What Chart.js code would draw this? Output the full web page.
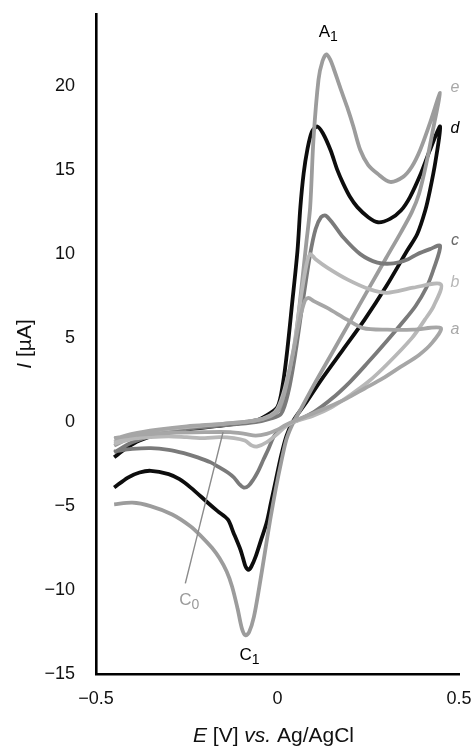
<!DOCTYPE html>
<html>
<head>
<meta charset="utf-8">
<script src="https://cdn.jsdelivr.net/npm/chart.js@4/dist/chart.umd.min.js"></script>
<style>
  html, body { margin: 0; padding: 0; background: #fff; }
  canvas { display: block; }
</style>
</head>
<body>
<canvas id="c" width="472" height="748"></canvas>
<script>
// ---- data (potential E [V], current I [µA]) ----
const xTicks = [-0.5, 0, 0.5];
const yTicks = [-15, -10, -5, 0, 5, 10, 15, 20];

const eV = [-0.45,-0.40,-0.33,-0.25,-0.15,-0.07,-0.02,0.01,0.03,0.05,0.065,0.08,0.09,0.099,0.113,0.124,0.135,0.145,0.154,0.173,0.192,0.209,0.228,0.25,0.275,0.31,0.346,0.37,0.393,0.42,0.448,
  0.43,0.41,0.39,0.37,0.34,0.30,0.25,0.20,0.15,0.10,0.065,0.044,0.025,0.01,-0.005,-0.02,-0.035,-0.05,-0.065,-0.078,-0.088,-0.098,-0.11,-0.125,-0.14,-0.16,-0.18,-0.21,-0.24,-0.29,-0.35,-0.40,-0.45];
const eI = [-1.4,-0.9,-0.55,-0.35,-0.15,0.05,0.3,0.9,2.4,5.0,7.8,10.8,12.8,16.8,20.4,21.5,21.9,21.6,21.1,19.9,18.75,17.6,16.2,15.3,14.8,14.3,14.6,15.2,16.2,17.8,19.6,
  17.6,15.4,13.6,12.5,11.3,9.8,7.9,6.0,4.1,2.2,0.8,0.0,-1.0,-2.4,-4.0,-5.8,-7.8,-9.8,-11.6,-12.5,-12.7,-12.3,-11.1,-9.8,-8.9,-8.1,-7.5,-6.8,-6.2,-5.5,-5.0,-4.8,-4.9];

const dV = [-0.45,-0.42,-0.38,-0.33,-0.25,-0.15,-0.06,-0.03,0.0,0.015,0.027,0.04,0.055,0.063,0.072,0.082,0.095,0.11,0.125,0.146,0.165,0.181,0.20,0.22,0.25,0.277,0.31,0.34,0.365,0.395,0.42,0.448,
  0.435,0.42,0.407,0.385,0.357,0.30,0.24,0.18,0.12,0.08,0.044,0.025,0.01,-0.005,-0.018,-0.03,-0.045,-0.06,-0.072,-0.08,-0.088,-0.095,-0.102,-0.121,-0.137,-0.165,-0.192,-0.239,-0.27,-0.30,-0.349,-0.38,-0.412,-0.45];
const dI = [-2.1,-1.6,-1.1,-0.75,-0.45,-0.2,0.1,0.4,0.9,2.3,4.3,7.0,10.2,12.8,14.8,16.2,17.3,17.6,17.2,16.2,15.0,14.2,13.4,12.8,12.2,11.9,12.1,12.6,13.4,14.8,16.2,17.6,
  15.5,13.8,12.6,11.2,10.2,8.1,6.1,4.3,2.5,1.2,0.1,-0.8,-2.0,-3.5,-4.8,-6.0,-7.0,-8.0,-8.6,-8.8,-8.6,-8.1,-7.6,-6.6,-5.8,-5.3,-4.8,-3.9,-3.4,-3.1,-2.9,-3.0,-3.3,-3.9];

const cV = [-0.45,-0.40,-0.33,-0.25,-0.15,-0.06,-0.02,0.01,0.03,0.05,0.07,0.09,0.105,0.12,0.132,0.15,0.181,0.228,0.275,0.319,0.36,0.385,0.42,0.448,
  0.43,0.41,0.38,0.343,0.30,0.247,0.20,0.15,0.10,0.044,0.02,0.0,-0.011,-0.025,-0.038,-0.055,-0.066,-0.08,-0.093,-0.105,-0.12,-0.137,-0.16,-0.184,-0.22,-0.258,-0.30,-0.349,-0.40,-0.45];
const cI = [-1.8,-1.2,-0.7,-0.4,-0.2,0.0,0.2,0.5,1.8,4.2,7.2,10.0,11.5,12.2,12.3,11.9,11.0,10.0,9.5,9.45,9.7,10.0,10.3,10.5,
  9.1,8.0,6.9,5.9,4.8,3.5,2.4,1.4,0.6,0.0,-0.25,-0.6,-0.9,-1.6,-2.2,-3.0,-3.4,-3.8,-3.9,-3.7,-3.3,-3.0,-2.7,-2.4,-2.1,-1.85,-1.65,-1.55,-1.6,-1.75];

const bV = [-0.45,-0.40,-0.33,-0.25,-0.15,-0.06,-0.02,0.0,0.02,0.044,0.065,0.08,0.09,0.105,0.137,0.192,0.255,0.302,0.374,0.45,
  0.43,0.406,0.37,0.30,0.25,0.20,0.15,0.10,0.044,0.02,0.0,-0.03,-0.055,-0.07,-0.09,-0.12,-0.16,-0.20,-0.25,-0.30,-0.35,-0.40,-0.45];
const bI = [-1.2,-0.8,-0.5,-0.3,-0.1,0.1,0.4,0.8,2.0,4.3,7.5,9.4,10.0,9.7,9.2,8.5,7.9,7.7,8.0,8.2,
  6.9,6.1,5.0,3.4,2.4,1.6,0.9,0.4,0.0,-0.3,-0.7,-1.2,-1.45,-1.4,-1.1,-0.95,-0.9,-0.95,-0.9,-0.85,-0.9,-1.0,-1.3];

const aV = [-0.45,-0.40,-0.33,-0.25,-0.15,-0.06,-0.02,0.0,0.02,0.04,0.06,0.075,0.085,0.10,0.137,0.192,0.236,0.302,0.374,0.45,
  0.425,0.39,0.34,0.29,0.24,0.19,0.14,0.09,0.044,0.02,0.0,-0.03,-0.06,-0.09,-0.13,-0.20,-0.30,-0.38,-0.45];
const aI = [-1.0,-0.7,-0.45,-0.25,-0.1,0.1,0.35,0.7,1.8,3.8,6.0,7.2,7.4,7.2,6.8,6.1,5.6,5.5,5.5,5.6,
  4.7,4.0,3.3,2.6,2.0,1.4,0.9,0.45,0.05,-0.2,-0.45,-0.7,-0.8,-0.7,-0.6,-0.6,-0.65,-0.75,-0.95];

const seriesNames = ['a', 'b', 'c', 'd', 'e'];
// ---- end data ----

const seriesData = { a: [aV, aI], b: [bV, bI], c: [cV, cI], d: [dV, dI], e: [eV, eI] };
const lineColors = { a: '#a6a6a6', b: '#b8b8b8', c: '#7a7a7a', d: '#0d0d0d', e: '#9c9c9c' };
const labelColors = { a: '#a8a8a8', b: '#b8b8b8', c: '#6a6a6a', d: '#000000', e: '#a8a8a8' };
const labelAt = { e: [0.489, 19.9], d: [0.489, 17.5], c: [0.489, 10.8], b: [0.489, 8.3], a: [0.489, 5.5] };

const FONT = '"Liberation Sans", Arial, sans-serif';

const datasets = seriesNames.map((n, i) => ({
  label: n,
  data: seriesData[n][0].map((v, k) => ({ x: v, y: seriesData[n][1][k] })),
  showLine: true,
  borderColor: lineColors[n],
  borderWidth: 3.8,
  pointRadius: 0,
  tension: 0.3,
  fill: false,
  order: n === 'd' ? 5 : i
}));

function subText(ctx, main, sub, x, y, size, color) {
  ctx.save();
  ctx.fillStyle = color;
  ctx.textBaseline = 'middle';
  ctx.font = size + 'px ' + FONT;
  const w1 = ctx.measureText(main).width;
  ctx.font = Math.round(size * 0.8) + 'px ' + FONT;
  const w2 = ctx.measureText(sub).width;
  const x0 = x - (w1 + w2) / 2;
  ctx.font = size + 'px ' + FONT;
  ctx.textAlign = 'left';
  ctx.fillText(main, x0, y);
  ctx.font = Math.round(size * 0.8) + 'px ' + FONT;
  ctx.fillText(sub, x0 + w1, y + size * 0.3);
  ctx.restore();
}

// draws a run of [text, italic] pieces centred on (cx, cy)
function richText(ctx, parts, cx, cy, size, color, rotate) {
  ctx.save();
  ctx.translate(cx, cy);
  if (rotate) ctx.rotate(-Math.PI / 2);
  ctx.fillStyle = color;
  ctx.textBaseline = 'middle';
  ctx.textAlign = 'left';
  const fonts = parts.map(p => (p[1] ? 'italic ' : '') + size + 'px ' + FONT);
  let total = 0;
  const widths = parts.map((p, i) => { ctx.font = fonts[i]; const w = ctx.measureText(p[0]).width; total += w; return w; });
  let xx = -total / 2;
  parts.forEach((p, i) => { ctx.font = fonts[i]; ctx.fillText(p[0], xx, 0); xx += widths[i]; });
  ctx.restore();
}

const annotate = {
  id: 'annotate',
  afterDraw(chart) {
    const { ctx, chartArea, scales: { x, y } } = chart;
    ctx.save();
    // series letters
    ctx.font = 'italic 16px ' + FONT;
    ctx.textAlign = 'center';
    ctx.textBaseline = 'middle';
    seriesNames.forEach(n => {
      ctx.fillStyle = labelColors[n];
      ctx.fillText(n, x.getPixelForValue(labelAt[n][0]), y.getPixelForValue(labelAt[n][1]));
    });
    // C0 leader line
    ctx.strokeStyle = '#8a8a8a';
    ctx.lineWidth = 1.4;
    ctx.beginPath();
    ctx.moveTo(x.getPixelForValue(-0.254), y.getPixelForValue(-9.6));
    ctx.lineTo(x.getPixelForValue(-0.150), y.getPixelForValue(-0.6));
    ctx.stroke();
    ctx.restore();
    subText(ctx, 'A', '1', x.getPixelForValue(0.14), y.getPixelForValue(23.2), 17, '#000');
    subText(ctx, 'C', '1', x.getPixelForValue(-0.077), y.getPixelForValue(-13.9), 17, '#000');
    subText(ctx, 'C', '0', x.getPixelForValue(-0.243), y.getPixelForValue(-10.6), 17, '#9a9a9a');
    // axis titles
    richText(ctx, [['E', true], [' [V] ', false], ['vs.', true], [' Ag/AgCl', false]],
      (chartArea.left + chartArea.right) / 2 - 4, chart.height - 12, 21, '#111', false);
    richText(ctx, [['I', true], [' [\u00b5A]', false]],
      25, (chartArea.top + chartArea.bottom) / 2, 21, '#111', true);
  }
};

new Chart(document.getElementById('c'), {
  type: 'scatter',
  data: { datasets },
  plugins: [annotate],
  options: {
    responsive: false,
    animation: false,
    devicePixelRatio: 1,
    layout: { padding: { top: 14, right: 13, left: 0, bottom: 0 } },
    plugins: { legend: { display: false }, tooltip: { enabled: false } },
    scales: {
      x: {
        type: 'linear',
        min: -0.5, max: 0.5,
        afterBuildTicks: s => { s.ticks = xTicks.map(v => ({ value: v })); },
        afterFit: s => { s.height = 74; s.paddingLeft = 0; s.paddingRight = 0; },
        grid: { display: false, drawTicks: false },
        border: { display: true, color: '#000', width: 2.6 },
        ticks: {
          padding: 14,
          color: '#111',
          font: { family: FONT, size: 18 },
          maxRotation: 0,
          callback: v => (v < 0 ? '\u2212' + Math.abs(v) : String(v))
        },
        title: { display: false }
      },
      y: {
        type: 'linear',
        min: -15, max: 24.3,
        afterBuildTicks: s => { s.ticks = yTicks.map(v => ({ value: v })); },
        afterFit: s => { s.width = 96; s.paddingTop = 0; s.paddingBottom = 0; },
        grid: { display: false, drawTicks: false },
        border: { display: true, color: '#000', width: 2.6 },
        ticks: {
          padding: 21,
          color: '#111',
          font: { family: FONT, size: 18 },
          callback: v => (v < 0 ? '\u2212' + Math.abs(v) : String(v))
        },
        title: { display: false }
      }
    }
  }
});
</script>
</body>
</html>
